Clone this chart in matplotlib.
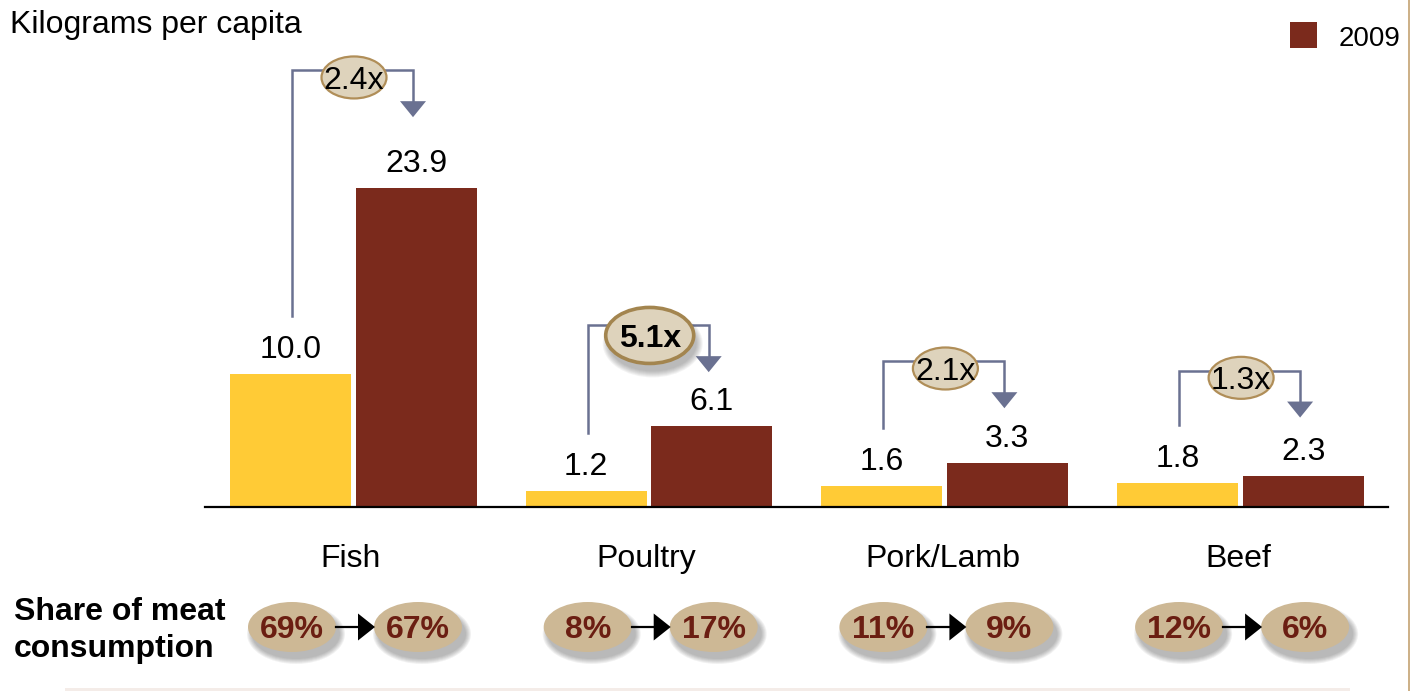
import matplotlib
matplotlib.use("Agg")
import matplotlib.pyplot as plt
from matplotlib.patches import Ellipse, Polygon, Rectangle
import numpy as np

plt.rcParams['font.family'] = ['Liberation Sans', 'DejaVu Sans']

# ---------------- data ----------------
categories = ["Fish", "Poultry", "Pork/Lamb", "Beef"]
values_earlier = [10.0, 1.2, 1.6, 1.8]
values_2009 = [23.9, 6.1, 3.3, 2.3]
series_2009_name = "2009"
multipliers = ["2.4x", "5.1x", "2.1x", "1.3x"]
highlight_multiplier = [False, True, False, False]
share_earlier = ["69%", "8%", "11%", "12%"]
share_2009 = ["67%", "17%", "9%", "6%"]
y_label = "Kilograms per capita"
share_label = ["Share of meat", "consumption"]

# ---------------- layout (pixel geometry of the reference) ----------------
W, H = 1413, 691
X0, PXX = 354.0, 295.7      # pixel x of group 0 centre, pixels per group
Y0, PXY = 507.0, 13.35      # pixel y of baseline, pixels per kg
bracket_top = [32.7, 13.6, 10.9, 10.2]   # kg units
arrow_tip = [29.2, 10.1, 7.4, 6.7]       # kg units

YELLOW = "#FFCB36"
BROWN = "#7B2A1C"
SLATE = "#6A7191"
TAN_FILL = "#DED3BC"
TAN_EDGE = "#B08E58"
SHARE_FILL = "#CDB895"
SHARE_TEXT = "#6B1E12"

def dx(px):
    return px / PXX

def dy(px):
    return px / PXY

fig = plt.figure(figsize=(W / 100, H / 100), dpi=100)
ax = fig.add_axes([0, 0, 1, 1])
ax.set_xlim(-X0 / PXX, (W - X0) / PXX)
ax.set_ylim(-(H - Y0) / PXY, Y0 / PXY)
ax.axis("off")

x = np.arange(len(categories))
bw = dx(121)
off = dx(62)

b1 = ax.bar(x - off - dx(1.5), values_earlier, bw, color=YELLOW, zorder=2)
b2 = ax.bar(x + off, values_2009, bw, color=BROWN, zorder=2)

# baseline
ax.axhline(0, xmin=205 / W, xmax=1388 / W, color="black", lw=1.6, zorder=3)

FS = 23
# value labels
for xi, v in zip(x - off - dx(1.5), values_earlier):
    ax.annotate(f"{v:.1f}", (xi, v), xytext=(0, 11.5), textcoords="offset points",
                ha="center", va="baseline", fontsize=FS)
for xi, v in zip(x + off, values_2009):
    ax.annotate(f"{v:.1f}", (xi, v), xytext=(0, 11.5), textcoords="offset points",
                ha="center", va="baseline", fontsize=FS)

# category labels
for xi, c in zip(x, categories):
    ax.text(xi - dx(3), -dy(60), c, ha="center", va="baseline", fontsize=FS)


def shadow(cx, cy, w, h, ox=4, oy=7, n=6, alpha=0.07):
    for k in range(n):
        e = Ellipse((cx + dx(ox), cy - dy(oy)), w + dx(2 * k), h + dy(2 * k),
                    facecolor="#404040", edgecolor="none", alpha=alpha, zorder=4)
        ax.add_patch(e)


# multiplier brackets
for i in range(len(categories)):
    xl = x[i] - off
    xr = x[i] + off - dx(3)
    top = bracket_top[i]
    lbot = values_earlier[i] + dy(58)
    tip = arrow_tip[i]
    tri_h = dy(16)
    ax.plot([xl, xl, xr, xr], [lbot, top, top, tip + tri_h], color=SLATE,
            lw=1.8, solid_joinstyle="miter", zorder=3)
    ax.add_patch(Polygon([[xr - dx(13), tip + tri_h], [xr + dx(13), tip + tri_h], [xr, tip]],
                         closed=True, facecolor=SLATE, edgecolor="none", zorder=3))
    cy = top - dy(7)
    if highlight_multiplier[i]:
        w, h = dx(88), dy(56)
        cy = top - dy(10)
        shadow(x[i], cy, w, h, ox=3, oy=8, n=7, alpha=0.06)
        ax.add_patch(Ellipse((x[i], cy), w, h, facecolor=TAN_FILL, edgecolor="#A3854F",
                             lw=2.6, zorder=5))
        ax.text(x[i], cy, multipliers[i], ha="center", va="center_baseline", fontsize=FS,
                fontweight="bold", zorder=6)
    else:
        w, h = dx(65), dy(42)
        ax.add_patch(Ellipse((x[i], cy), w, h, facecolor=TAN_FILL, edgecolor=TAN_EDGE,
                             lw=1.6, zorder=5))
        ax.text(x[i], cy, multipliers[i], ha="center", va="center_baseline", fontsize=FS,
                zorder=6)

# share of meat consumption row
sy = -dy(627 - Y0)
ew, eh = dx(88), dy(50)
for i in range(len(categories)):
    c1 = x[i] - off
    c2 = x[i] + off + dx(2)
    for c, t in ((c1, share_earlier[i]), (c2, share_2009[i])):
        shadow(c, sy, ew, eh)
        ax.add_patch(Ellipse((c, sy), ew, eh, facecolor=SHARE_FILL, edgecolor="none", zorder=5))
        ax.text(c, sy, t, ha="center", va="center_baseline", fontsize=FS, fontweight="bold",
                color=SHARE_TEXT, zorder=6)
    a0 = c1 + ew / 2
    a1 = c2 - ew / 2
    ax.plot([a0, a1 - dx(14)], [sy, sy], color="black", lw=1.6, zorder=6)
    ax.add_patch(Polygon([[a1 - dx(16), sy + dy(13.5)], [a1 - dx(16), sy - dy(13.5)], [a1 + dx(1), sy]],
                         closed=True, facecolor="black", edgecolor="none", zorder=6))

# texts in figure pixel coordinates
fig.text(10 / W, 1 - 33 / H, y_label, ha="left", va="baseline", fontsize=FS)
fig.text(14 / W, 1 - 620 / H, share_label[0], ha="left", va="baseline", fontsize=FS,
         fontweight="bold")
fig.text(14 / W, 1 - 657 / H, share_label[1], ha="left", va="baseline", fontsize=FS,
         fontweight="bold")

# legend
fig.patches.append(Rectangle((1290 / W, 1 - 48 / H), 27 / W, 26 / H, transform=fig.transFigure,
                             facecolor=BROWN, edgecolor="none"))
fig.text(1339 / W, 1 - 36 / H, series_2009_name, ha="left", va="center_baseline", fontsize=20)

# frame decorations
fig.lines.append(plt.Line2D([1408.5 / W, 1408.5 / W], [0, 1], transform=fig.transFigure,
                            color="#C4A272", lw=1.2))
fig.patches.append(Rectangle((65 / W, 0), 1285 / W, 3 / H, transform=fig.transFigure,
                             facecolor="#F4ECE8", edgecolor="none"))

fig.savefig("out.png", dpi=100)
